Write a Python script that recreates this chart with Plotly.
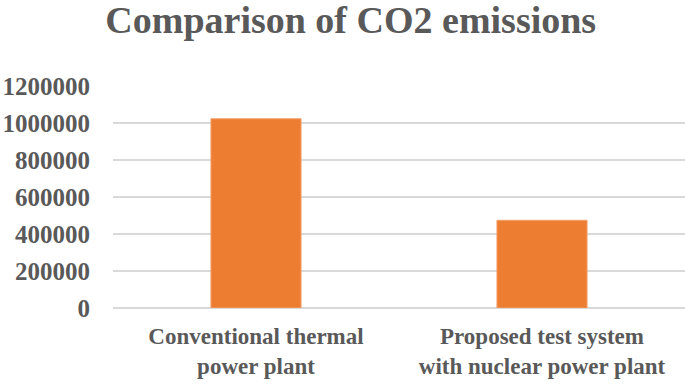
import plotly.graph_objects as go

categories = ["Conventional thermal<br>power plant", "Proposed test system<br>with nuclear power plant"]
emissions = [1023000, 474000]
tick_vals = [0, 200000, 400000, 600000, 800000, 1000000, 1200000]
tick_text = ["0", "200000", "400000", "600000", "800000", "1000000", "1200000"]

font_family = "Liberation Serif, Times New Roman, serif"
grey = "#595959"

fig = go.Figure(go.Bar(
    x=categories, y=emissions,
    marker=dict(color="#ED7D31", line=dict(color="#F4A06A", width=1)),
    width=0.315,
))

fig.update_layout(
    width=685, height=384,
    margin=dict(l=113, r=0, t=86, b=76, autoexpand=False),
    paper_bgcolor="white", plot_bgcolor="white",
    title=dict(text="<b>Comparison of CO2 emissions</b>", x=0.512, xanchor="center",
               yref="container", y=0.948, yanchor="middle",
               font=dict(family=font_family, size=38, color=grey)),
    showlegend=False,
    font=dict(family=font_family, color=grey),
)
fig.update_yaxes(range=[0, 1200000], tickvals=tick_vals, ticktext=["<b>%s</b>" % t for t in tick_text],
                 showgrid=True, gridcolor="#D9D9D9", gridwidth=2,
                 zeroline=True, zerolinecolor="#D9D9D9", zerolinewidth=2,
                 showline=False, ticks="", ticklen=0, automargin=False,
                 ticklabelstandoff=22,
                 tickfont=dict(family=font_family, size=25, color=grey))
fig.update_xaxes(showgrid=False, showline=False, ticks="", automargin=False,
                 tickvals=categories, ticktext=["<b>%s</b>" % c for c in categories],
                 ticklabelstandoff=12,
                 tickfont=dict(family=font_family, size=23, color=grey))

fig.write_html("out.html", config={"displayModeBar": False},
               post_script="document.body.style.margin='0';document.body.style.overflow='hidden';")
